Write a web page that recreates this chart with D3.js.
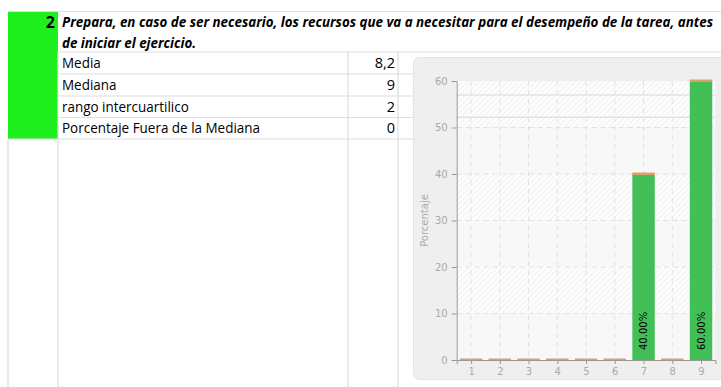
<!DOCTYPE html>
<html>
<head>
<meta charset="utf-8">
<script src="https://cdn.jsdelivr.net/npm/d3@7"></script>
<style>
  html, body { margin: 0; padding: 0; background: #fff; }
  svg { display: block; }
</style>
</head>
<body>
<svg id="sheet" width="721" height="387"></svg>
<script>
// Item header and summary statistics
const itemNumber = "2";
const itemText = [
  "Prepara, en caso de ser necesario, los recursos que va a necesitar para el desempeño de la tarea, antes",
  "de iniciar el ejercicio."
];
const statLabels = ["Media", "Mediana", "rango intercuartilico", "Porcentaje Fuera de la Mediana"];
const statValues = ["8,2", "9", "2", "0"];

// Response distribution (percentage per answer value)
const categories = ["1", "2", "3", "4", "5", "6", "7", "8", "9"];
const percentages = [0, 0, 0, 0, 0, 0, 40, 0, 60];
const yTicks = [0, 10, 20, 30, 40, 50, 60];
const referenceLines = [57.0, 52.2];
const yTitle = "Porcentaje";

const svg = d3.select("#sheet");
const textFont = "'Liberation Sans Narrow', 'Open Sans', 'Noto Sans', sans-serif";
const chartFont = "'DejaVu Sans', sans-serif";
const gridColor = "#dedede";

// ---------- spreadsheet grid ----------
const colX = [8, 58, 348, 398];
const headerTop = 11.5;
const rowY = [52, 74, 96, 117.5, 139];

svg.append("rect")
  .attr("x", colX[0]).attr("y", 12)
  .attr("width", colX[1] - colX[0]).attr("height", rowY[4] - 12)
  .attr("fill", "#1ef01e");

const grid = svg.append("g").attr("stroke", gridColor).attr("stroke-width", 1.2);
grid.append("line").attr("x1", colX[0]).attr("x2", 721).attr("y1", headerTop).attr("y2", headerTop);
grid.append("line").attr("x1", colX[1]).attr("x2", 721).attr("y1", rowY[0]).attr("y2", rowY[0]);
rowY.slice(1, 4).forEach(y => {
  grid.append("line").attr("x1", colX[1]).attr("x2", 414).attr("y1", y).attr("y2", y);
});
grid.append("line").attr("x1", colX[0]).attr("x2", 414).attr("y1", rowY[4]).attr("y2", rowY[4]);
grid.append("line").attr("x1", colX[0]).attr("x2", colX[0]).attr("y1", rowY[4]).attr("y2", 387);
[colX[1], colX[2], colX[3]].forEach(x => {
  grid.append("line").attr("x1", x).attr("x2", x).attr("y1", rowY[0]).attr("y2", 387);
});

// header text
svg.append("text")
  .attr("x", 55).attr("y", 28)
  .attr("text-anchor", "end")
  .attr("font-family", textFont).attr("font-weight", "bold")
  .attr("font-size", 16).attr("fill", "#000")
  .text(itemNumber);

const headerLines = svg.append("g")
  .attr("font-family", textFont).attr("font-weight", "bold").attr("font-style", "italic")
  .attr("font-size", 14.5).attr("fill", "#000")
  .selectAll("text").data(itemText).join("text")
  .attr("x", 62).attr("y", (d, i) => 27 + i * 21)
  .text(d => d);

// squeeze header lines to the sheet's column widths
(function () {
  const nodes = headerLines.nodes();
  const ratio = 651 / nodes[0].getComputedTextLength();
  nodes.forEach(n => {
    n.setAttribute("textLength", n.getComputedTextLength() * ratio);
    n.setAttribute("lengthAdjust", "spacingAndGlyphs");
  });
})();

const statRows = svg.append("g")
  .attr("font-family", textFont).attr("font-size", 14.5).attr("fill", "#000");
const labelNodes = statRows.selectAll("text.label").data(statLabels).join("text")
  .attr("class", "label")
  .attr("x", 62).attr("y", (d, i) => (rowY[i] + rowY[i + 1]) / 2 + 5)
  .text(d => d);
(function () {
  const nodes = labelNodes.nodes();
  const ratio = 198 / nodes[3].getComputedTextLength();
  nodes.forEach(n => {
    n.setAttribute("textLength", n.getComputedTextLength() * ratio);
    n.setAttribute("lengthAdjust", "spacingAndGlyphs");
  });
})();
statRows.selectAll("text.value").data(statValues).join("text")
  .attr("class", "value")
  .attr("x", 395).attr("y", (d, i) => (rowY[i] + rowY[i + 1]) / 2 + 5)
  .attr("text-anchor", "end")
  .text(d => d);

// ---------- chart panel ----------
svg.append("rect")
  .attr("x", 413.5).attr("y", 57.5).attr("width", 330).attr("height", 322)
  .attr("rx", 6).attr("fill", "#efefef").attr("stroke", "#e3e3e3");

const x = d3.scaleBand().domain(categories).range([456.7, 715.4]).paddingInner(0.22).paddingOuter(0.11);
const xc = d3.scalePoint().domain(categories).range([456.7, 715.4]).padding(0.5);
const y = d3.scaleLinear().domain([0, 60]).range([360, 81]);

const defs = svg.append("defs");
const hatch = defs.append("pattern")
  .attr("id", "hatch").attr("patternUnits", "userSpaceOnUse")
  .attr("width", 4).attr("height", 4)
  .attr("patternTransform", "rotate(45)");
hatch.append("rect").attr("width", 4).attr("height", 4).attr("fill", "#fdfdfd");
hatch.append("line").attr("x1", 0).attr("y1", 0).attr("x2", 0).attr("y2", 4)
  .attr("stroke", "#e9e9e9").attr("stroke-width", 1.2);

const plot = svg.append("g");
const [px0, px1] = x.range();

// alternating bands between y ticks
const bands = d3.pairs(yTicks);
plot.selectAll("rect.band").data(bands).join("rect")
  .attr("class", "band")
  .attr("x", px0).attr("width", px1 - px0)
  .attr("y", d => y(d[1])).attr("height", d => y(d[0]) - y(d[1]))
  .attr("fill", (d, i) => i % 2 === 0 ? "#f8f8f8" : "url(#hatch)");

// dashed grid
plot.selectAll("line.hgrid").data(yTicks.slice(1, -1)).join("line")
  .attr("class", "hgrid")
  .attr("x1", px0).attr("x2", px1).attr("y1", d => y(d)).attr("y2", d => y(d))
  .attr("stroke", "#e2e2e2").attr("stroke-dasharray", "5,4");
plot.selectAll("line.vgrid").data(categories).join("line")
  .attr("class", "vgrid")
  .attr("x1", d => xc(d)).attr("x2", d => xc(d)).attr("y1", y(60)).attr("y2", y(0))
  .attr("stroke", "#e2e2e2").attr("stroke-dasharray", "5,4");

// reference lines
plot.selectAll("line.ref").data(referenceLines).join("line")
  .attr("class", "ref")
  .attr("x1", px0).attr("x2", px1).attr("y1", d => y(d)).attr("y2", d => y(d))
  .attr("stroke", "#e2e2e2").attr("stroke-width", 1.5);

// bars
const data = categories.map((c, i) => ({ c, v: percentages[i] }));
plot.selectAll("rect.bar").data(data.filter(d => d.v > 0)).join("rect")
  .attr("class", "bar")
  .attr("x", d => x(d.c)).attr("width", x.bandwidth())
  .attr("y", d => y(d.v)).attr("height", d => y(0) - y(d.v))
  .attr("fill", "#43bf58");
plot.selectAll("rect.cap").data(data).join("rect")
  .attr("class", "cap")
  .attr("x", d => x(d.c)).attr("width", x.bandwidth())
  .attr("y", d => y(d.v) - 1.5).attr("height", 2.5)
  .attr("fill", "#dd9f68");

// value labels inside bars
plot.selectAll("text.vlabel").data(data.filter(d => d.v > 0)).join("text")
  .attr("class", "vlabel")
  .attr("transform", d => `translate(${xc(d.c) + 3.5},${y(0) - 10}) rotate(-90)`)
  .attr("font-family", chartFont).attr("font-size", 10).attr("fill", "#000")
  .text(d => d3.format(".2f")(d.v) + "%");

// axes
const yAxis = plot.append("g")
  .attr("transform", `translate(${px0},0)`)
  .call(d3.axisLeft(y).tickValues(yTicks).tickSize(5).tickPadding(4));
const xAxis = plot.append("g")
  .attr("transform", `translate(0,${y(0)})`)
  .call(d3.axisBottom(xc).tickSize(4).tickPadding(4));
[yAxis, xAxis].forEach(a => {
  a.select(".domain").attr("stroke", "#999");
  a.selectAll(".tick line").attr("stroke", "#999");
  a.selectAll(".tick text").attr("fill", "#aaa").attr("font-family", chartFont).attr("font-size", 10);
});

plot.append("text")
  .attr("transform", `translate(428,${(y(0) + y(60)) / 2}) rotate(-90)`)
  .attr("text-anchor", "middle")
  .attr("font-family", chartFont).attr("font-size", 10).attr("fill", "#aaa")
  .text(yTitle);
</script>
</body>
</html>
